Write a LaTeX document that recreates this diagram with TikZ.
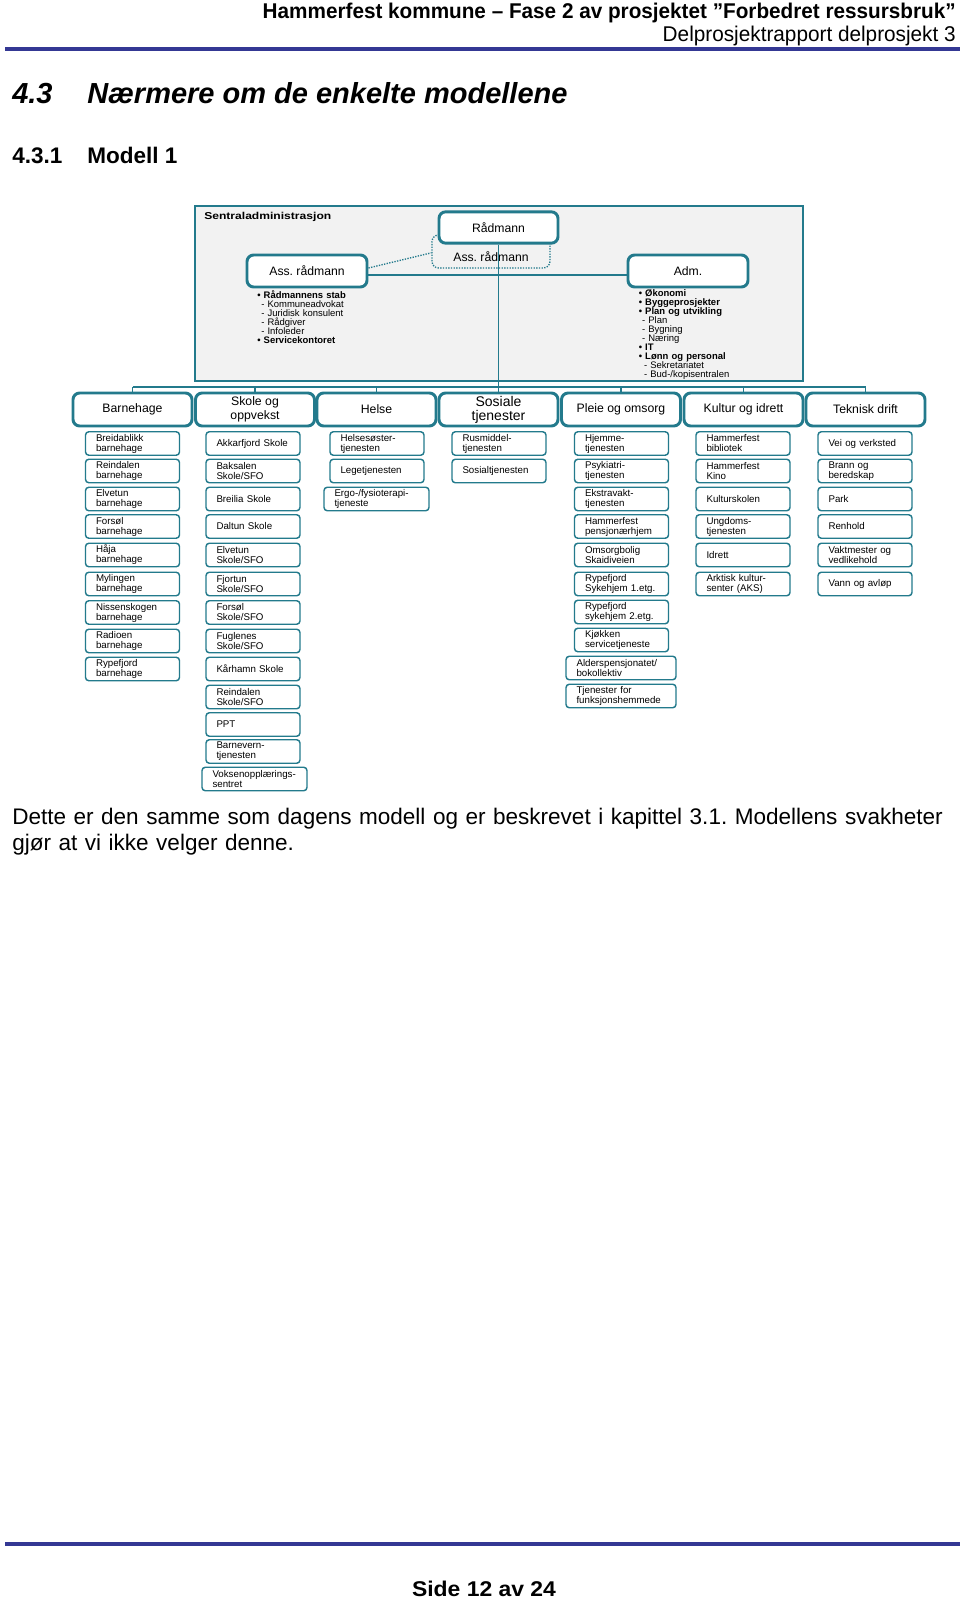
\documentclass[tikz,border=0pt]{standalone}
\usepackage{fontspec}
\setmainfont{Liberation Sans}
\usepackage{graphicx}
\hyphenpenalty=10000 \exhyphenpenalty=10000
\lineskiplimit=-20pt
\frenchspacing
\definecolor{teal0}{RGB}{35,122,140}
\definecolor{hblue}{RGB}{52,56,148}
\definecolor{gfill}{RGB}{242,242,242}
\begin{document}
\begin{tikzpicture}[x=0.75pt,y=-0.75pt,
  conn/.style={draw=teal0,line width=1.1pt},
  sbase/.style={draw=teal0,line width=1.1pt,rounded corners=2.5pt,fill=white,minimum height=17.625pt,inner xsep=7.875pt,inner ysep=0pt,align=left,font=\fontsize{7.3}{7.5}\selectfont},
  sb/.style={sbase,text width=54.75pt},
  sbw/.style={sbase,text width=63pt},
  sbx/.style={sbase,text width=66.75pt},
  dbox/.style={draw=teal0,line width=2.2pt,rounded corners=5pt,fill=white,minimum width=89.25pt,minimum height=24.75pt,inner sep=0pt,align=center,font=\fontsize{9.2}{10.5}\selectfont},
  tbox/.style={draw=teal0,line width=2.2pt,rounded corners=5pt,fill=white,minimum width=89.25pt,minimum height=23.5pt,inner sep=0pt,font=\fontsize{9.15}{10}\selectfont},
  lst/.style={anchor=base west,inner sep=0pt,text width=120pt,align=left,font=\fontsize{7.1}{6.75}\selectfont},
  hline/.style={draw=hblue,line width=3pt}
]
\fill[white] (0,0) rectangle (960,1598);
\useasboundingbox (0,0) rectangle (960,1598);

% header
\node[anchor=base east,inner sep=0pt] (hdr1) at (956,19) {\resizebox{519.75pt}{\height}{\fontsize{16}{18}\selectfont\bfseries Hammerfest kommune – Fase 2 av prosjektet ”Forbedret ressursbruk”}};
\node[anchor=base east,inner sep=0pt] (hdr2) at (956,42) {\resizebox{219.75pt}{\height}{\fontsize{16}{18}\selectfont Delprosjektrapport delprosjekt 3}};
\coordinate (hlA) at (5,49.5);
\coordinate (hlB) at (960,49.5);
\draw[hline] (hlA) -- (hlB);

% headings
\node[anchor=base west,inner sep=0pt,font=\fontsize{21.75}{24}\selectfont\bfseries\itshape] (h43) at (12,104) {4.3};
\node[anchor=base west,inner sep=0pt,font=\fontsize{21.75}{24}\selectfont\bfseries\itshape] (h43t) at (87,104) {Nærmere om de enkelte modellene};
\node[anchor=base west,inner sep=0pt,font=\fontsize{16.9}{19}\selectfont\bfseries] (h431) at (12,164) {4.3.1};
\node[anchor=base west,inner sep=0pt,font=\fontsize{16.9}{19}\selectfont\bfseries] (h431t) at (87,164) {Modell 1};

% Sentraladministrasjon
\node[draw=teal0,line width=1pt,fill=gfill,minimum width=456pt,minimum height=131.25pt,inner sep=0pt] (sentral) at (499,293.5) {};
\node[anchor=base west,inner sep=0pt] (sentraltxt) at (204,219.5) {\resizebox{95.25pt}{\height}{\fontsize{7.5}{9}\selectfont\bfseries Sentraladministrasjon}};

\node[draw=teal0,densely dotted,line width=1pt,rounded corners=5pt,minimum width=88.5pt,minimum height=24.75pt,inner sep=0pt] (assdot) at (491,251.5) {};
\node[inner sep=0pt,font=\fontsize{9.15}{10}\selectfont] (assdottxt) at (491,257) {Ass. rådmann};

\node[tbox] (radmann) at (498.5,227.5) {Rådmann};
\node[tbox,minimum width=90pt,minimum height=24pt] (assL) at (307,271) {Ass. rådmann};
\node[tbox,minimum width=90pt,minimum height=24pt] (adm) at (688,271) {Adm.};

\draw[teal0,densely dotted,line width=1pt] ([yshift=2.25pt]assL.east) -- ([yshift=-1pt]assdot.west);
\draw[conn] ([yshift=-3pt]assL.east) -- ([yshift=-3pt]adm.west);

\node[lst] (listL) at (257,298.7) {{\bfseries • Rådmannens stab}\\
\hspace*{3pt}- Kommuneadvokat\\
\hspace*{3pt}- Juridisk konsulent\\
\hspace*{3pt}- Rådgiver\\
\hspace*{3pt}- Infoleder\\
{\bfseries • Servicekontoret}};

\node[lst] (listR) at (638.5,296.5) {{\bfseries • Økonomi}\\
{\bfseries • Byggeprosjekter}\\
{\bfseries • Plan og utvikling}\\
\hspace*{2.5pt}- Plan\\
\hspace*{2.5pt}- Bygning\\
\hspace*{2.5pt}- Næring\\
{\bfseries • IT}\\
{\bfseries • Lønn og personal}\\
\hspace*{4pt}- Sekretariatet\\
\hspace*{4pt}- Bud-/kopisentralen};

% departments
\node[dbox] (dBarn) at (132.5,409.5) {Barnehage};
\node[dbox] (dSkole) at (255,409.5) {Skole og\\oppvekst};
\node[dbox] (dHelse) at (376.5,409.5) {Helse};
\node[dbox,font=\fontsize{10.5}{10.5}\selectfont] (dSos) at (498.5,409.5) {Sosiale\\tjenester};
\node[dbox] (dPleie) at (621,409.5) {Pleie og omsorg};
\node[dbox] (dKult) at (743.5,409.5) {Kultur og idrett};
\node[dbox] (dTek) at (865.5,409.5) {Teknisk drift};

\coordinate (busL) at (132.5,387);
\coordinate (busR) at (865.5,387);
\draw[conn] (busL) -- (busR);
\foreach \d in {dBarn,dSkole,dHelse,dSos,dPleie,dKult,dTek}
  \draw[conn] (\d.north) -- (\d.north |- busL);
\draw[conn] (radmann.south) -- (radmann.south |- busL);

% Barnehage
\node[sb] (b1) at (132.5,443.5) {Breidablikk\\barnehage};
\node[sb] (b2) at (132.5,471) {Reindalen\\barnehage};
\node[sb] (b3) at (132.5,499) {Elvetun\\barnehage};
\node[sb] (b4) at (132.5,526.5) {Forsøl\\barnehage};
\node[sb] (b5) at (132.5,555) {Håja\\barnehage};
\node[sb] (b6) at (132.5,584) {Mylingen\\barnehage};
\node[sb] (b7) at (132.5,612.5) {Nissenskogen\\barnehage};
\node[sb] (b8) at (132.5,641) {Radioen\\barnehage};
\node[sb] (b9) at (132.5,669) {Rypefjord\\barnehage};

% Skole
\node[sb] (s1) at (253,443.5) {Akkarfjord~Skole};
\node[sb] (s2) at (253,471) {Baksalen\\Skole/SFO};
\node[sb] (s3) at (253,499) {Breilia~Skole};
\node[sb] (s4) at (253,526.5) {Daltun~Skole};
\node[sb] (s5) at (253,555) {Elvetun\\Skole/SFO};
\node[sb] (s6) at (253,584) {Fjortun\\Skole/SFO};
\node[sb] (s7) at (253,612.5) {Forsøl\\Skole/SFO};
\node[sb] (s8) at (253,641) {Fuglenes\\Skole/SFO};
\node[sb] (s9) at (253,669) {Kårhamn~Skole};
\node[sb] (s10) at (253,697) {Reindalen\\Skole/SFO};
\node[sb] (s11) at (253,724.5) {PPT};
\node[sb] (s12) at (253,751.5) {Barnevern-\\tjenesten};
\node[sbw] (s13) at (254.5,779) {Voksenopplærings-\\sentret};

% Helse
\node[sb] (h1) at (377,443.5) {Helsesøster-\\tjenesten};
\node[sb] (h2) at (377,471) {Legetjenesten};
\node[sbw] (h3) at (376.5,499) {Ergo-/fysioterapi-\\tjeneste};

% Sosiale
\node[sb] (so1) at (499,443.5) {Rusmiddel-\\tjenesten};
\node[sb] (so2) at (499,471) {Sosialtjenesten};

% Pleie
\node[sb] (p1) at (621.5,443.5) {Hjemme-\\tjenesten};
\node[sb] (p2) at (621.5,471) {Psykiatri-\\tjenesten};
\node[sb] (p3) at (621.5,499) {Ekstravakt-\\tjenesten};
\node[sb] (p4) at (621.5,526.5) {Hammerfest\\pensjonærhjem};
\node[sb] (p5) at (621.5,555) {Omsorgbolig\\Skaidiveien};
\node[sb] (p6) at (621.5,584) {Rypefjord\\Sykehjem~1.etg.};
\node[sb] (p7) at (621.5,612) {Rypefjord\\sykehjem~2.etg.};
\node[sb] (p8) at (621.5,640) {Kjøkken\\servicetjeneste};
\node[sbx] (p9) at (621,668) {Alderspensjonatet/\\bokollektiv};
\node[sbx] (p10) at (621,696) {Tjenester~for\\funksjonshemmede};

% Kultur
\node[sb] (k1) at (743,443.5) {Hammerfest\\bibliotek};
\node[sb] (k2) at (743,471) {Hammerfest\\Kino};
\node[sb] (k3) at (743,499) {Kulturskolen};
\node[sb] (k4) at (743,526.5) {Ungdoms-\\tjenesten};
\node[sb] (k5) at (743,555) {Idrett};
\node[sb] (k6) at (743,584) {Arktisk~kultur-\\senter~(AKS)};

% Teknisk
\node[sb] (t1) at (865,443.5) {Vei~og~verksted};
\node[sb] (t2) at (865,471) {Brann~og\\beredskap};
\node[sb] (t3) at (865,499) {Park};
\node[sb] (t4) at (865,526.5) {Renhold};
\node[sb] (t5) at (865,555) {Vaktmester~og\\vedlikehold};
\node[sb] (t6) at (865,584) {Vann~og~avløp};

% body text
\node[anchor=base west,inner sep=0pt,text width=720pt,align=left,font=\fontsize{16.9}{19.9}\selectfont] (body) at (12,824) {Dette er den samme som dagens modell og er beskrevet i kapittel 3.1. Modellens~svakheter\\gjør at vi ikke velger denne.};

% footer
\coordinate (flA) at (5,1544);
\coordinate (flB) at (960,1544);
\draw[hline] (flA) -- (flB);
\node[anchor=base,inner sep=0pt] (foot) at (484,1596) {\resizebox{108pt}{\height}{\fontsize{16}{18}\selectfont\bfseries Side 12 av 24}};
\end{tikzpicture}
\end{document}
